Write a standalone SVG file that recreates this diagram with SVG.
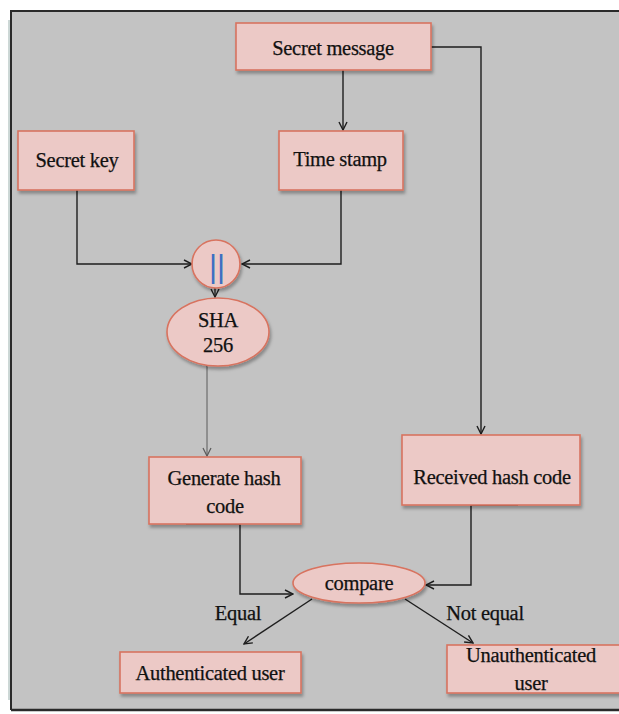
<svg xmlns="http://www.w3.org/2000/svg" width="619" height="714" viewBox="0 0 619 714">
  <defs>
    <style>
      .box { fill: #ecc9c6; stroke: #d8735f; stroke-width: 1.6; filter: url(#shadow); }
      .lbl { font-family: "Liberation Serif", "DejaVu Serif", serif; font-size: 20.5px; fill: #111; stroke: #111; stroke-width: 0.25; text-anchor: middle; letter-spacing: -0.3px; }
      .wire { fill: none; stroke: #1e1e1e; stroke-width: 1.4; }
      .thin { fill: none; stroke: #5a5a5a; stroke-width: 1; }
    </style>
    <filter id="shadow" x="-10%" y="-10%" width="130%" height="140%">
      <feDropShadow dx="1.5" dy="3" stdDeviation="1.5" flood-color="#000" flood-opacity="0.3"/>
    </filter>
    <marker id="arrow" viewBox="0 0 10 10" refX="9" refY="5" markerWidth="10" markerHeight="10" markerUnits="userSpaceOnUse" orient="auto">
      <path d="M1,1 L9,5 L1,9" fill="none" stroke="#1e1e1e" stroke-width="1.4"/>
    </marker>
    <marker id="arrowGray" viewBox="0 0 10 10" refX="9" refY="5" markerWidth="10" markerHeight="10" markerUnits="userSpaceOnUse" orient="auto">
      <path d="M1,1 L9,5 L1,9" fill="none" stroke="#5a5a5a" stroke-width="1.2"/>
    </marker>
  </defs>

  <!-- page and frame -->
  <rect x="0" y="0" width="619" height="714" fill="#ffffff"/>
  <rect x="11" y="11" width="620" height="699" fill="#c3c3c3"/>
  <path d="M11,710 L11,11 L619,11" fill="none" stroke="#2a2a2a" stroke-width="2"/>
  <line x1="11" y1="710" x2="619" y2="710" stroke="#2a2a2a" stroke-width="2.5"/>
  <line x1="9" y1="20" x2="9" y2="700" stroke="#9ab0ad" stroke-width="1"/>

  <!-- connectors -->
  <g id="connectors">
    <path class="wire" d="M343,70 L343,130" marker-end="url(#arrow)"/>
    <path class="wire" d="M431,47 L481,47 L481,434" marker-end="url(#arrow)"/>
    <path class="wire" d="M77,190 L77,264 L192,264" marker-end="url(#arrow)"/>
    <path class="wire" d="M341,190 L341,264 L242,264" marker-end="url(#arrow)"/>
    <path class="wire" d="M215,288 L215,297" marker-end="url(#arrow)"/>
    <path class="thin" d="M207,366 L207,456" marker-end="url(#arrowGray)"/>
    <path class="wire" d="M186,524 L240,524 L240,594 L293,594" marker-end="url(#arrow)"/>
    <path class="wire" d="M518,505 L471,505 L471,585 L426,585" marker-end="url(#arrow)"/>
    <path class="wire" d="M312,599 L244,644" marker-end="url(#arrow)"/>
    <path class="wire" d="M405,599 L473,643" marker-end="url(#arrow)"/>
  </g>

  <!-- nodes -->
  <g id="secret-message">
    <rect class="box" x="236" y="23" width="195" height="47"/>
    <text class="lbl" x="333" y="55">Secret message</text>
  </g>
  <g id="secret-key">
    <rect class="box" x="18" y="131" width="116" height="59"/>
    <text class="lbl" x="77" y="167">Secret key</text>
  </g>
  <g id="time-stamp">
    <rect class="box" x="279" y="131" width="124" height="59"/>
    <text class="lbl" x="340" y="166">Time stamp</text>
  </g>
  <g id="concat">
    <circle class="box" cx="216" cy="264" r="24"/>
    <text x="217" y="277" text-anchor="middle" font-family="'Liberation Sans', sans-serif" font-size="31px" fill="#3d6fc2">||</text>
  </g>
  <g id="sha256">
    <ellipse class="box" cx="218" cy="332" rx="51" ry="34"/>
    <text class="lbl" x="218" y="327">SHA</text>
    <text class="lbl" x="218" y="352">256</text>
  </g>
  <g id="generate-hash">
    <rect class="box" x="149" y="457" width="152" height="67"/>
    <text class="lbl" x="224" y="485">Generate hash</text>
    <text class="lbl" x="225" y="513">code</text>
  </g>
  <g id="received-hash">
    <rect class="box" x="402" y="435" width="178" height="70"/>
    <text class="lbl" x="492" y="484">Received hash code</text>
  </g>
  <g id="compare">
    <ellipse class="box" cx="359" cy="583" rx="66" ry="20"/>
    <text class="lbl" x="359" y="590">compare</text>
  </g>
  <g id="authenticated">
    <rect class="box" x="120" y="652" width="181" height="41"/>
    <text class="lbl" x="210" y="680">Authenticated user</text>
  </g>
  <g id="unauthenticated">
    <rect class="box" x="447" y="645" width="180" height="48"/>
    <text class="lbl" x="531" y="662">Unauthenticated</text>
    <text class="lbl" x="531" y="690">user</text>
  </g>

  <!-- edge labels -->
  <text class="lbl" x="238" y="620">Equal</text>
  <text class="lbl" x="485" y="620">Not equal</text>
</svg>
